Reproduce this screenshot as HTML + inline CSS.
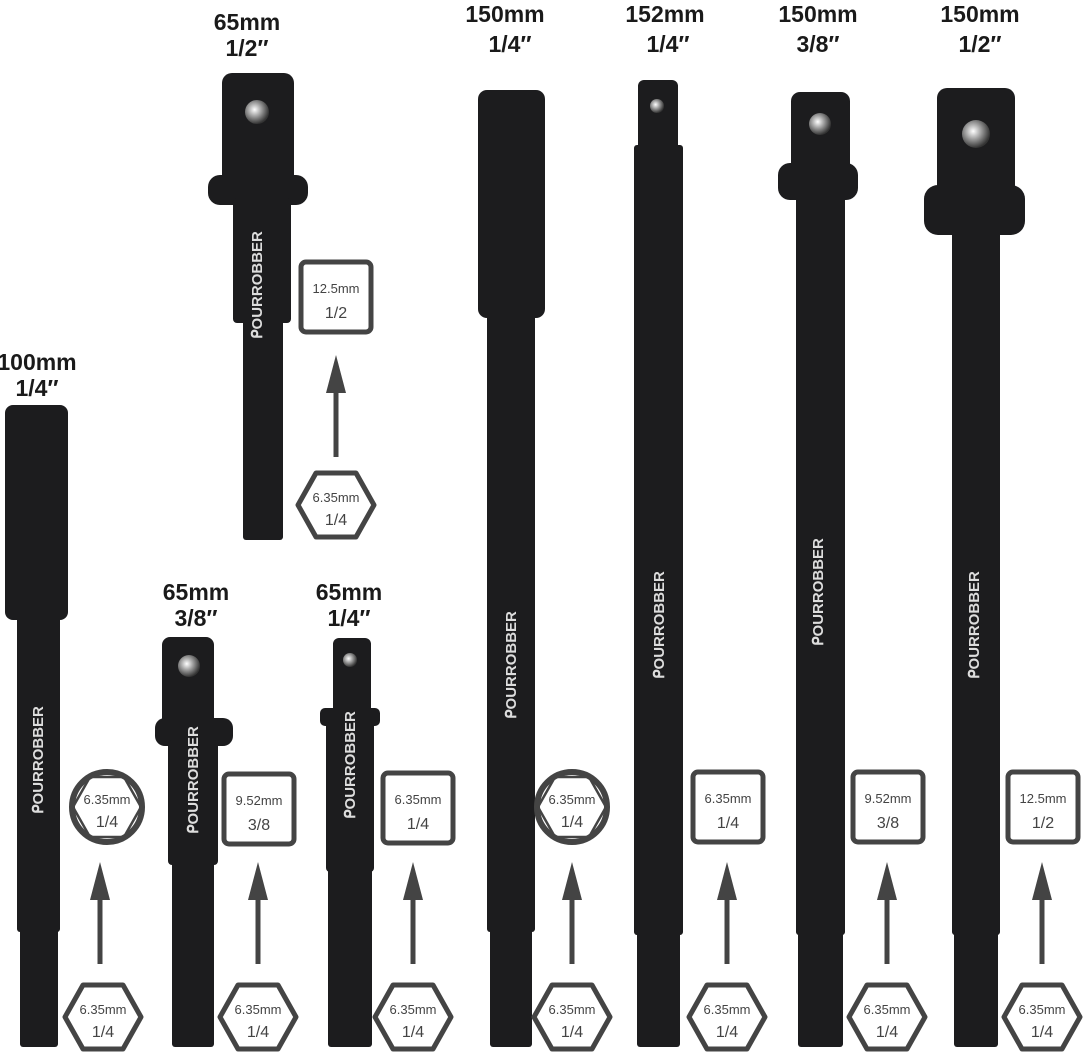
<!DOCTYPE html>
<html><head><meta charset="utf-8"><style>
html,body{margin:0;padding:0;background:#fff;}
svg{display:block}
.t{font-family:"Liberation Sans",Arial,sans-serif;font-weight:bold;fill:#1a1a1a;text-anchor:middle;font-size:23px}
.b{font-family:"Liberation Sans",Arial,sans-serif;fill:#444;text-anchor:middle}
.s{font-size:13px}.l{font-size:16px}
.logo{font-family:"Liberation Sans",Arial,sans-serif;font-weight:bold;fill:#ddd;font-size:15px;text-anchor:middle}
</style></head><body>
<svg width="1083" height="1055" viewBox="0 0 1083 1055" xmlns="http://www.w3.org/2000/svg">
<defs>
<radialGradient id="ball" cx="40%" cy="40%" r="60%"><stop offset="0" stop-color="#fff"/><stop offset="0.5" stop-color="#999"/><stop offset="1" stop-color="#333"/></radialGradient>
<g id="hexb"><polygon points="-38,0 -20,-32 20,-32 38,0 20,32 -20,32" fill="none" stroke="#444" stroke-width="5" stroke-linejoin="round"/>
<text class="b s" x="0" y="-3">6.35mm</text><text class="b l" x="0" y="20">1/4</text></g>
<g id="arrow"><rect x="-2.5" y="36" width="5" height="66" fill="#444"/><polygon points="0,0 -10,38 10,38" fill="#444"/></g>
</defs>

<!-- labels -->
<text class="t" x="37" y="370">100mm</text><text class="t" x="37" y="396">1/4″</text>
<text class="t" x="247" y="30">65mm</text><text class="t" x="247" y="56">1/2″</text>
<text class="t" x="196" y="600">65mm</text><text class="t" x="196" y="626">3/8″</text>
<text class="t" x="349" y="600">65mm</text><text class="t" x="349" y="626">1/4″</text>
<text class="t" x="505" y="22">150mm</text><text class="t" x="510" y="52">1/4″</text>
<text class="t" x="665" y="22">152mm</text><text class="t" x="668" y="52">1/4″</text>
<text class="t" x="818" y="22">150mm</text><text class="t" x="818" y="52">3/8″</text>
<text class="t" x="980" y="22">150mm</text><text class="t" x="980" y="52">1/2″</text>

<g fill="#1c1c1e">
<!-- 1: 100mm socket -->
<rect x="5" y="405" width="63" height="215" rx="8"/>
<rect x="17" y="612" width="43" height="320" rx="3"/>
<rect x="20" y="925" width="38" height="122" rx="3"/>
<!-- 2: 65mm 1/2 top -->
<rect x="222" y="73" width="72" height="115" rx="10"/>
<rect x="208" y="175" width="100" height="30" rx="12"/>
<rect x="233" y="198" width="58" height="125" rx="4"/>
<rect x="243" y="318" width="40" height="222" rx="3"/>
<!-- 3: 65mm 3/8 -->
<rect x="162" y="637" width="52" height="95" rx="8"/>
<rect x="155" y="718" width="78" height="28" rx="10"/>
<rect x="168" y="740" width="50" height="125" rx="4"/>
<rect x="172" y="860" width="42" height="187" rx="3"/>
<!-- 4: 65mm 1/4 -->
<rect x="333" y="638" width="38" height="80" rx="6"/>
<rect x="320" y="708" width="60" height="18" rx="5"/>
<rect x="326" y="722" width="48" height="150" rx="4"/>
<rect x="328" y="868" width="44" height="179" rx="3"/>
<!-- 5: 150mm 1/4 socket -->
<rect x="478" y="90" width="67" height="228" rx="9"/>
<rect x="487" y="310" width="48" height="622" rx="3"/>
<rect x="490" y="925" width="42" height="122" rx="3"/>
<!-- 6: 152mm -->
<rect x="638" y="80" width="40" height="75" rx="6"/>
<rect x="634" y="145" width="49" height="790" rx="3"/>
<rect x="637" y="930" width="43" height="117" rx="3"/>
<!-- 7: 150mm 3/8 -->
<rect x="791" y="92" width="59" height="85" rx="9"/>
<rect x="778" y="163" width="80" height="37" rx="12"/>
<rect x="796" y="195" width="49" height="740" rx="3"/>
<rect x="798" y="930" width="45" height="117" rx="3"/>
<!-- 8: 150mm 1/2 -->
<rect x="937" y="88" width="78" height="110" rx="10"/>
<rect x="924" y="185" width="101" height="50" rx="14"/>
<rect x="952" y="230" width="48" height="705" rx="3"/>
<rect x="954" y="930" width="44" height="117" rx="3"/>
</g>
<!-- balls -->
<circle cx="257" cy="112" r="12" fill="url(#ball)"/>
<circle cx="189" cy="666" r="11" fill="url(#ball)"/>
<circle cx="350" cy="660" r="7" fill="url(#ball)"/>
<circle cx="657" cy="106" r="7" fill="url(#ball)"/>
<circle cx="820" cy="124" r="11" fill="url(#ball)"/>
<circle cx="976" cy="134" r="14" fill="url(#ball)"/>
<!-- logos -->
<text class="logo" transform="translate(43,760) rotate(-90)">ᑭOURROBBER</text>
<text class="logo" transform="translate(198,780) rotate(-90)">ᑭOURROBBER</text>
<text class="logo" transform="translate(355,765) rotate(-90)">ᑭOURROBBER</text>
<text class="logo" transform="translate(262,285) rotate(-90)">ᑭOURROBBER</text>
<text class="logo" transform="translate(516,665) rotate(-90)">ᑭOURROBBER</text>
<text class="logo" transform="translate(664,625) rotate(-90)">ᑭOURROBBER</text>
<text class="logo" transform="translate(823,592) rotate(-90)">ᑭOURROBBER</text>
<text class="logo" transform="translate(979,625) rotate(-90)">ᑭOURROBBER</text>

<!-- hex badges bottom -->
<use href="#hexb" x="103" y="1017"/>
<use href="#hexb" x="258" y="1017"/>
<use href="#hexb" x="413" y="1017"/>
<use href="#hexb" x="572" y="1017"/>
<use href="#hexb" x="727" y="1017"/>
<use href="#hexb" x="887" y="1017"/>
<use href="#hexb" x="1042" y="1017"/>
<use href="#hexb" x="336" y="505"/>
<!-- arrows -->
<use href="#arrow" x="100" y="862"/>
<use href="#arrow" x="258" y="862"/>
<use href="#arrow" x="413" y="862"/>
<use href="#arrow" x="572" y="862"/>
<use href="#arrow" x="727" y="862"/>
<use href="#arrow" x="887" y="862"/>
<use href="#arrow" x="1042" y="862"/>
<use href="#arrow" x="336" y="355"/>
<!-- circle badges -->
<g fill="none" stroke="#444" stroke-width="6">
<circle cx="107" cy="807" r="35"/><circle cx="572" cy="807" r="35"/>
</g>
<g fill="none" stroke="#444" stroke-width="2.5">
<polygon points="73,807 90,777 124,777 141,807 124,837 90,837"/>
<polygon points="538,807 555,777 589,777 606,807 589,837 555,837"/>
</g>
<text class="b s" x="107" y="804">6.35mm</text><text class="b l" x="107" y="827">1/4</text>
<text class="b s" x="572" y="804">6.35mm</text><text class="b l" x="572" y="827">1/4</text>
<!-- square badges -->
<g fill="none" stroke="#444" stroke-width="5">
<rect x="224" y="774" width="70" height="70" rx="5"/>
<rect x="383" y="773" width="70" height="70" rx="5"/>
<rect x="693" y="772" width="70" height="70" rx="5"/>
<rect x="853" y="772" width="70" height="70" rx="5"/>
<rect x="1008" y="772" width="70" height="70" rx="5"/>
<rect x="301" y="262" width="70" height="70" rx="5"/>
</g>
<text class="b s" x="259" y="805">9.52mm</text><text class="b l" x="259" y="830">3/8</text>
<text class="b s" x="418" y="804">6.35mm</text><text class="b l" x="418" y="829">1/4</text>
<text class="b s" x="728" y="803">6.35mm</text><text class="b l" x="728" y="828">1/4</text>
<text class="b s" x="888" y="803">9.52mm</text><text class="b l" x="888" y="828">3/8</text>
<text class="b s" x="1043" y="803">12.5mm</text><text class="b l" x="1043" y="828">1/2</text>
<text class="b s" x="336" y="293">12.5mm</text><text class="b l" x="336" y="318">1/2</text>
</svg>
</body></html>
